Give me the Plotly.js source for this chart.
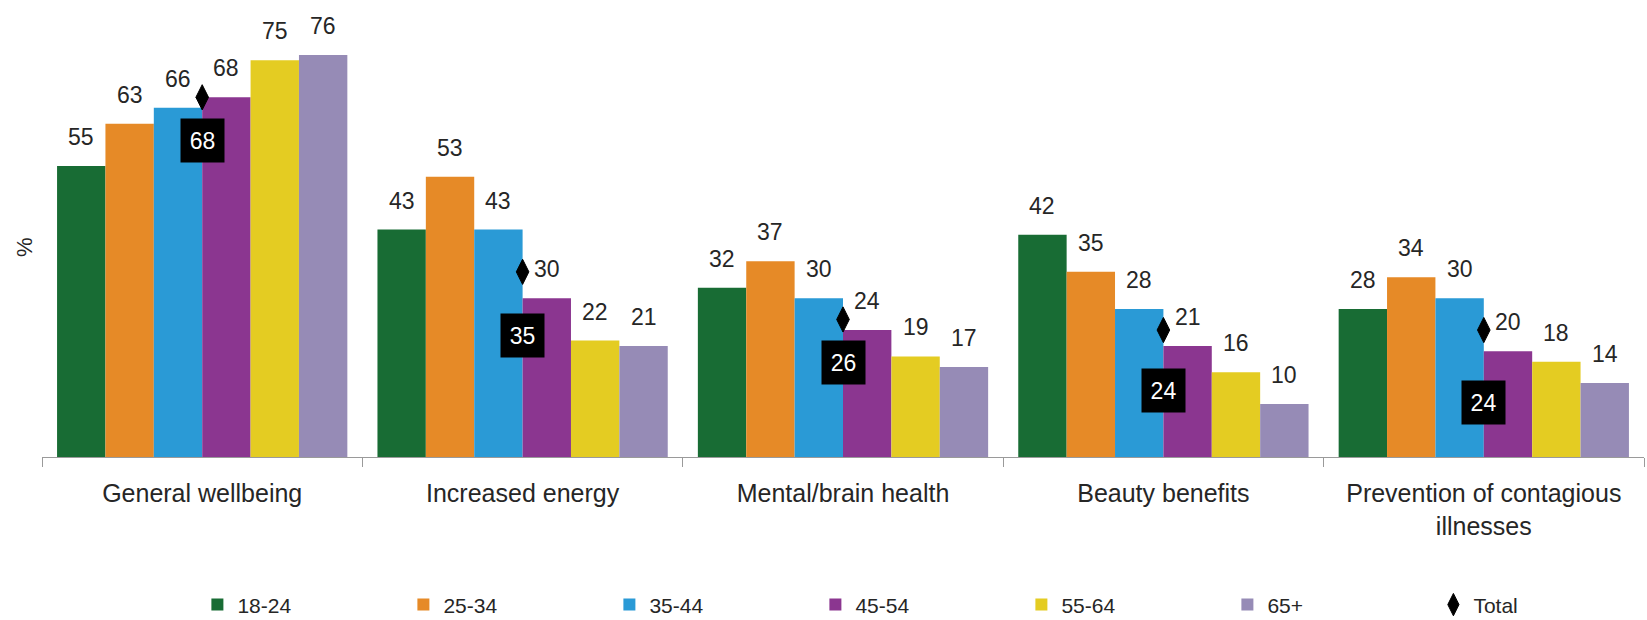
<!DOCTYPE html>
<html>
<head>
<meta charset="utf-8">
<script src="https://cdn.plot.ly/plotly-3.0.1.min.js"></script>
<style>html,body{margin:0;padding:0;background:#fff;}#chart{width:1647px;height:620px;}</style>
</head>
<body>
<div id="chart"></div>
<script>
// ---- data ----
const categories = ["General wellbeing", "Increased energy", "Mental/brain health", "Beauty benefits", "Prevention of contagious<br>illnesses"];
const ageGroups = ["18-24", "25-34", "35-44", "45-54", "55-64", "65+"];
const age18_24 = [55, 43, 32, 42, 28];
const age25_34 = [63, 53, 37, 35, 34];
const age35_44 = [66, 43, 30, 28, 30];
const age45_54 = [68, 30, 24, 21, 20];
const age55_64 = [75, 22, 19, 16, 18];
const age65plus = [76, 21, 17, 10, 14];
const total = [68, 35, 26, 24, 24];

// ---- style ----
const colors = ["#186c34", "#e68a27", "#2a9ad6", "#8b3690", "#e4cc22", "#968bb6"];
const totalBoxShift = [43, 64, 43, 60, 72]; // px below the diamond
const bargap = 0.094;
const fontFamily = "'Liberation Sans', Arial, sans-serif";
const textColor = "#262626";

const series = [age18_24, age25_34, age35_44, age45_54, age55_64, age65plus];

const traces = series.map((vals, i) => ({
  type: "bar",
  name: ageGroups[i],
  x: categories,
  y: vals,
  marker: {color: colors[i]},
  hoverinfo: "y"
}));

traces.push({
  type: "scatter",
  mode: "markers",
  name: "Total",
  x: categories,
  y: total,
  marker: {symbol: "diamond-tall", size: 18, color: "#000", line: {color: "#000", width: 1}},
  cliponaxis: false
});

const annotations = [];
const nSeries = series.length;
const barW = (1 - bargap) / nSeries;
series.forEach((vals, i) => {
  vals.forEach((v, j) => {
    annotations.push({
      x: j + (i - (nSeries - 1) / 2) * barW,
      y: v,
      xref: "x", yref: "y",
      text: String(v),
      showarrow: false,
      xanchor: "center",
      yanchor: "middle",
      yshift: 29,
      font: {family: fontFamily, size: 23, color: textColor}
    });
  });
});
total.forEach((v, j) => {
  annotations.push({
    x: j, y: v, xref: "x", yref: "y",
    text: String(v),
    showarrow: false,
    xanchor: "center",
    yanchor: "middle",
    yshift: -totalBoxShift[j],
    bgcolor: "#000",
    borderpad: 4,
    width: 35, height: 35,
    font: {family: fontFamily, size: 23, color: "#fff"}
  });
});
annotations.push({
  xref: "paper", yref: "paper",
  x: -0.0106, y: 0.47,
  xanchor: "center", yanchor: "middle",
  text: "%", textangle: -90, showarrow: false,
  font: {family: fontFamily, size: 22, color: textColor}
});

const layout = {
  width: 1647, height: 620,
  margin: {l: 42, r: 3, t: 10, b: 163, autoexpand: false},
  paper_bgcolor: "#fff", plot_bgcolor: "#fff",
  barmode: "group",
  bargap: bargap,
  bargroupgap: 0,
  showlegend: true,
  font: {family: fontFamily, color: textColor},
  xaxis: {
    type: "category",
    automargin: false,
    showline: true, linecolor: "#9a9a9a", linewidth: 1,
    ticks: "outside", tickson: "boundaries", ticklen: 9, tickcolor: "#9a9a9a",
    tickfont: {family: fontFamily, size: 25, color: textColor},
    ticklabelstandoff: 14,
    showgrid: false, zeroline: false
  },
  yaxis: {
    range: [0, 84.5],
    automargin: false,
    showgrid: false, zeroline: false, showline: false,
    showticklabels: false, ticks: ""
  },
  legend: {
    orientation: "h",
    x: 0.097, xanchor: "left",
    y: -0.331, yanchor: "middle",
    entrywidth: 161, entrywidthmode: "pixels",
    itemwidth: 30,
    font: {family: fontFamily, size: 21, color: textColor},
    traceorder: "normal"
  },
  annotations: annotations
};

Plotly.newPlot("chart", traces, layout, {displayModeBar: false, staticPlot: true});
</script>
</body>
</html>
